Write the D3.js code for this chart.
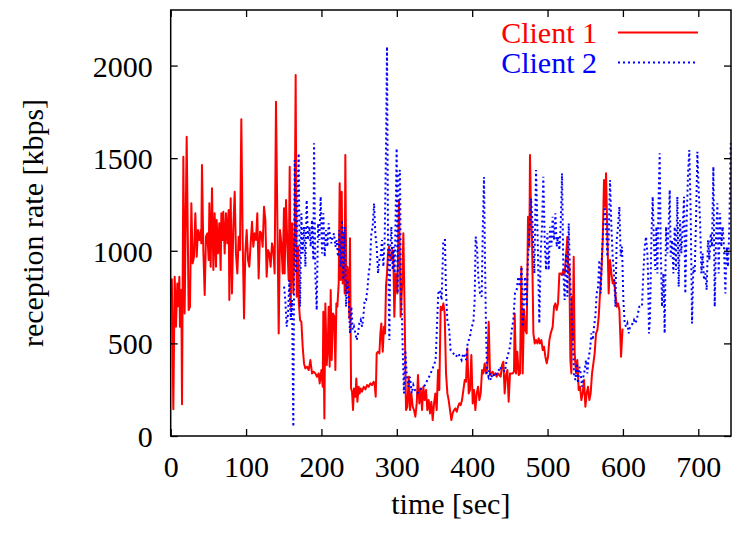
<!DOCTYPE html>
<html>
<head>
<meta charset="utf-8">
<script src="https://cdn.jsdelivr.net/npm/d3@7"></script>
<style>
  body { margin: 0; background: #fff; }
  svg, svg text { font-family: "Liberation Serif", "Times New Roman", serif; }
</style>
</head>
<body>
<svg id="chart" width="732" height="534"></svg>
<script>
const X_TICKS = [0, 100, 200, 300, 400, 500, 600, 700];
const Y_TICKS = [0, 500, 1000, 1500, 2000];
const SERIES_NAMES = ["Client 1", "Client 2"];

// [time (sec), reception rate (kbps)]
const client1 = [
  [1.5,850],[3.5,144],[5.3,860],[7,590],[8.8,824],[10,700],[11.5,860],[12.3,590],[14.1,788],[15,171],
  [16.8,1508],[18.5,662],[21.2,1616],[23.8,680],[25.6,698],[27.4,1256],[29.1,932],[30.9,968],[32.7,1202],[34.5,968],
  [36.2,1112],[38,1058],[39.8,1112],[40.6,1040],[41.5,1463],[43.3,1004],[45.1,761],[46.8,1076],[48.6,1094],[50.4,950],
  [51.3,1256],[53,914],[54.8,1337],[56.6,896],[58.3,1202],[60.1,914],[61,1166],[62.8,986],[64.5,1148],[66.3,896],
  [67.2,1202],[69,1058],[69.8,1211],[71.6,986],[73.4,1202],[75.1,1040],[76.9,1220],[77.8,734],[79.6,1283],[81.3,770],
  [83.1,1130],[84.9,1319],[86.6,986],[88.4,878],[90.2,1076],[91.9,1004],[93.7,1710],[95.5,1058],[97.3,635],[99,986],
  [100.8,1112],[102.6,950],[104.3,914],[106.1,1040],[107.9,1157],[109.6,1022],[111.4,1094],[113.2,1058],[114.9,1202],[116.7,851],
  [118.5,1103],[120.3,1094],[122,1022],[123.8,1238],[125.6,1166],[127.3,860],[129.1,1004],[130.9,986],[132.6,914],[134.4,1040],
  [136.2,1004],[137.9,878],[139.7,1805],[141.5,1166],[143.3,554],[145,1112],[146.8,1040],[148.6,878],[150.3,1229],[151.2,878],
  [153,1274],[154.8,1022],[156.5,842],[157.9,1454],[159.2,698],[161,1148],[162.7,770],[164.5,1130],[165.8,1949],[167.2,752],
  [169,1022],[169.8,734],[171.6,626],[173.4,616],[175.1,482],[176.9,392],[178.7,365],[180.9,374],[183.1,356],[185.3,410],
  [187.5,338],[189.7,347],[191.9,338],[194.1,320],[196.3,338],[197.7,284],[199.9,356],[201.7,266],[202.5,671],[203.9,95],
  [205.2,716],[207,383],[208.3,463],[209.6,698],[210.9,374],[212.3,788],[213.6,410],[215.4,662],[217.1,644],[218.5,356],
  [219.8,716],[221.1,698],[222.9,824],[224.2,1364],[225.5,842],[226.9,1319],[228.2,824],[229.5,1094],[230.8,770],[231.7,1517],
  [233.1,770],[234.4,914],[235.7,878],[237,635],[237.9,1067],[239.3,257],[240.6,239],[241.9,140],[243.2,257],[245,212],
  [246.3,311],[247.7,185],[249.4,266],[250.8,230],[252.1,257],[253.8,239],[256.1,266],[258.3,252],[260.5,275],[262.7,266],
  [264.9,284],[267.1,275],[269.3,293],[270.7,275],[272,212],[273.3,446],[275.1,455],[276.9,446],[278.2,554],[279.5,608],
  [281.3,455],[283,590],[284.4,554],[285.7,815],[287,878],[288.3,986],[289.7,1022],[291,968],[292.8,950],[294.1,1004],
  [295.4,968],[296.7,644],[298.5,878],[300.7,770],[302.9,1274],[305.1,644],[307.4,842],[308.7,1094],[310.5,626],[312.2,140],
  [314,158],[315.8,320],[317.5,140],[319.3,230],[321.1,158],[322.8,140],[324.6,104],[326.4,176],[328.1,329],[329.9,176],
  [331.7,257],[333.5,140],[335.2,266],[337,194],[338.8,248],[340.5,140],[342.3,194],[344.1,122],[345.8,185],[347.6,86],
  [349.4,176],[351.1,230],[352.9,140],[354.7,356],[356.4,248],[358.2,698],[360,680],[361.8,716],[363.5,662],[365.3,338],
  [367.1,230],[368.8,194],[370.6,140],[372.4,86],[374.1,122],[375.9,140],[377.7,149],[379.5,131],[381.2,158],[383,176],
  [384.8,167],[386.5,194],[388.3,248],[390.1,302],[391.8,293],[393.6,473],[395.4,230],[397.1,248],[398.9,437],[400.7,176],
  [402.5,248],[404.2,140],[406,230],[407.8,266],[409.5,194],[411.3,230],[413.1,356],[414.8,338],[416.6,392],[418.4,338],
  [420.1,365],[421.9,617],[423.7,329],[425.4,338],[427.2,347],[429,329],[430.8,338],[432.5,320],[434.3,338],[436.1,329],
  [437.8,320],[439.6,383],[441.4,401],[443.1,230],[444.9,329],[446.7,356],[448.4,185],[450.2,338],[452,338],[453.7,338],
  [455.5,347],[456.4,662],[458.2,338],[459.9,455],[461.7,329],[463.5,338],[465.2,914],[467,338],[468.8,680],[470.6,572],
  [472.3,554],[474.1,1184],[475.9,1022],[476.7,1517],[478.1,1202],[479.4,1058],[481.2,554],[483,500],[484.7,518],[486.5,500],
  [488.2,527],[490,500],[491.8,518],[493.6,464],[495.3,482],[497.1,428],[498.9,392],[500.6,428],[502.4,518],[504.2,554],
  [506.8,590],[508.6,698],[510.4,716],[512.1,680],[513.9,716],[515.7,878],[517.4,878],[519.2,869],[521,896],[522.7,878],
  [524.5,968],[526.3,1076],[527.6,878],[528.9,914],[530.3,410],[531.6,338],[532.5,752],[533.4,518],[534.7,968],[536,446],
  [537.8,338],[539.5,410],[541.3,248],[543.1,266],[544.9,194],[546.6,230],[548.4,302],[550.2,158],[551.9,230],[553.7,266],
  [555.5,194],[557.2,230],[559,338],[560.8,392],[562.5,446],[564.3,554],[566.1,572],[567.9,644],[569.6,770],[571.4,878],
  [573.2,1058],[574.9,1382],[576.7,1238],[577.6,1418],[579.4,1076],[581.1,770],[582.9,950],[584.7,878],[586.4,824],[588.2,842],
  [590,770],[591.7,698],[593.5,716],[595.3,680],[597.5,428],[599.5,580]
];

const client2 = [
  [150.4,806],[152.1,734],[153.9,590],[155.7,662],[157.4,842],[159.2,626],[161,734],[162.7,50],[164.5,1490],[166.3,878],
  [168,1238],[169.8,1526],[171.6,698],[173.4,1202],[175.1,986],[176.9,1130],[178.7,914],[180.4,1274],[182.2,1058],[184,1130],
  [185.7,1022],[187.5,1166],[189.3,950],[190.2,1580],[191.9,878],[193.7,680],[195.5,1148],[197.2,1058],[199,1292],[200.8,986],
  [202.5,1202],[204.3,968],[206.1,1112],[207.9,1022],[209.6,1148],[211.4,1076],[213.2,1040],[214.9,1076],[216.7,1094],[218.5,1022],
  [220.2,1058],[222,968],[223.8,1112],[225.5,914],[227.3,1166],[229.1,842],[230.8,1130],[232.6,698],[234.4,842],[236.1,770],
  [237.9,554],[239.7,698],[241.5,572],[243.2,590],[245,554],[246.8,518],[248.5,554],[250.3,608],[252.1,626],[253.9,590],
  [255.6,644],[257.4,734],[259.2,734],[260.9,788],[262.7,878],[264.5,932],[266.2,1094],[268,1130],[269.8,1256],[271.5,1094],
  [273.3,1022],[275.1,878],[276.8,950],[278.6,968],[280.4,1058],[282.2,914],[283.9,1058],[285.7,1562],[287,2102],[288.3,1058],
  [290.1,518],[291.4,1022],[292.8,1130],[294.5,896],[295.9,1022],[297.2,878],[299.8,1553],[301.1,770],[302.4,1418],[304.2,1436],
  [305.5,770],[306.9,644],[308.2,410],[309.5,230],[311.3,464],[313.1,338],[315.3,266],[317.5,320],[319.7,230],[321.9,275],
  [324.1,248],[327.2,230],[329.9,248],[333,257],[337.4,275],[340.5,302],[344,329],[348.4,374],[351.5,410],[355,770],
  [357.3,788],[359.5,734],[361.7,1058],[363.9,1058],[365.2,788],[367,626],[369.2,590],[371.4,464],[375,446],[378.5,428],
  [381.6,446],[383.8,428],[386,410],[388.2,446],[390.5,428],[391.8,410],[394,500],[397.1,536],[399.3,590],[401.5,608],
  [403.3,734],[404.6,1076],[406.4,1022],[408.1,860],[410.4,770],[412.6,752],[414.3,1166],[415.7,1398],[417,950],[418.3,590],
  [419.6,338],[421.4,320],[422.7,356],[424.5,302],[427.2,338],[429.8,320],[432.5,338],[434.7,347],[436.9,374],[439.1,356],
  [441.3,356],[443.5,347],[445.7,410],[448,446],[450.2,482],[452.4,572],[454.6,626],[456.8,770],[459,788],[461.2,860],
  [463.4,806],[465.6,914],[467,590],[468.3,680],[470.1,860],[472.3,698],[473.6,914],[474.9,1022],[476.7,1166],[478.1,1283],
  [480.3,1130],[482.5,878],[484.7,1436],[486.9,1058],[489.1,608],[490.9,986],[492.7,1130],[494.4,1400],[496.2,1058],[498,896],
  [499.7,1094],[501.5,896],[503.3,1130],[505.1,1022],[506.8,1184],[508.6,1058],[510.4,1202],[512.1,1022],[513.9,1076],[515.7,1004],
  [517.4,1130],[519.2,1418],[521,878],[522.7,734],[524.5,986],[526.3,752],[528.1,1148],[529.8,878],[531.6,698],[533.4,518],
  [535.1,338],[536.9,302],[538.7,392],[540.4,284],[542.2,374],[544,338],[545.7,266],[547.5,320],[549.3,356],[551,410],
  [552.8,338],[554.6,428],[556.4,464],[558.1,554],[559.9,518],[561.7,590],[563.4,644],[565.2,770],[567,806],[568.7,950],
  [570.5,770],[572.3,986],[574,1130],[575.8,1238],[577.6,1130],[579.3,968],[581.1,1058],[582.9,1382],[584.7,1130],[586.4,968],
  [588.2,878],[590,698],[591.7,1058],[593.5,1130],[595.3,1238],[597,970],[598.8,1022],[600.6,734],[602.3,608],[604.1,590],
  [605.9,608],[607.7,554],[609.4,590],[611.2,599],[613,608],[614.7,626],[616.5,608],[618.3,626],[620,662],[621.8,698],
  [623.6,698],[625.3,698],[627.1,878],[628.9,1022],[630.7,1076],[632.4,986],[633.3,878],[634.6,554],[636,644],[637.7,1058],
  [639.5,1292],[641.3,1022],[643,896],[644.4,1130],[645.7,878],[647.5,1310],[648.8,1526],[650.1,1022],[651.9,698],[653.7,878],
  [655.4,554],[657.2,1130],[659,986],[660.7,1130],[662.1,1328],[663.4,968],[665.2,1058],[667,878],[668.7,1130],[670.5,896],
  [672.2,1292],[674,806],[675.8,1166],[677.5,986],[679.3,1130],[681.1,1292],[682.8,770],[684.6,1166],[686.4,1418],[688.1,1544],
  [689.9,1202],[691.7,608],[693.5,914],[695.2,878],[697,1166],[698.8,1535],[700.5,1328],[702.3,1166],[704.1,878],[705.8,986],
  [707.6,842],[709.4,878],[711.1,788],[712.9,1058],[714.7,950],[716.5,1094],[718.2,1022],[720,1454],[721.8,698],[723.5,1058],
  [725.3,1256],[727.1,878],[728.8,1202],[730.6,1022],[732.4,1130],[734.1,1022],[735.9,770],[737.7,1022],[739.5,914],[741.2,1130],
  [743,1580]
];

const LEFT   = 170.7;
const RIGHT  = 731;
const TOP    = 10;
const BOTTOM = 436;
const TICK   = 7;
const FONT   = 30;
const DOTS   = "2,3";

const svg = d3.select("#chart");

const x = d3.scaleLinear().domain([0, 743.4]).range([LEFT, RIGHT]);
const y = d3.scaleLinear().domain([0, 2300]).range([BOTTOM, TOP]);

const line = d3.line().x(d => x(d[0])).y(d => y(d[1]));

// client 1 first so client 2 sits on top, as gnuplot draws it
svg.append("path")
   .datum(client1)
   .attr("fill", "none")
   .attr("stroke", "#ff0000")
   .attr("stroke-width", 2)
   .attr("stroke-linejoin", "round")
   .attr("d", line);

svg.append("path")
   .datum(client2)
   .attr("fill", "none")
   .attr("stroke", "#0000ff")
   .attr("stroke-width", 2)
   .attr("stroke-dasharray", DOTS)
   .attr("d", line);

// axes with inward ticks on all four sides
function styleAxis(g) {
  g.attr("font-family", null).attr("font-size", FONT);
  g.select(".domain").remove();
  g.selectAll(".tick line").attr("stroke", "#000").attr("stroke-width", 1.3);
  g.selectAll("text").attr("fill", "#000");
}

svg.append("g")
   .attr("transform", `translate(0,${BOTTOM})`)
   .call(d3.axisBottom(x).tickValues(X_TICKS).tickSize(-TICK).tickSizeOuter(0).tickFormat(d3.format("d")))
   .call(styleAxis)
   .call(g => g.selectAll("text").attr("y", 41).attr("dy", null));

svg.append("g")
   .attr("transform", `translate(0,${TOP})`)
   .call(d3.axisTop(x).tickValues(X_TICKS).tickSize(-TICK).tickSizeOuter(0).tickFormat(""))
   .call(styleAxis);

svg.append("g")
   .attr("transform", `translate(${LEFT},0)`)
   .call(d3.axisLeft(y).tickValues(Y_TICKS).tickSize(-TICK).tickSizeOuter(0).tickFormat(d3.format("d")))
   .call(styleAxis)
   .call(g => g.selectAll("text").attr("x", -18).attr("dy", "0.35em"));

svg.append("g")
   .attr("transform", `translate(${RIGHT},0)`)
   .call(d3.axisRight(y).tickValues(Y_TICKS).tickSize(-TICK).tickSizeOuter(0).tickFormat(""))
   .call(styleAxis);

svg.append("rect")
   .attr("x", LEFT).attr("y", TOP)
   .attr("width", RIGHT - LEFT).attr("height", BOTTOM - TOP)
   .attr("fill", "none")
   .attr("stroke", "#000")
   .attr("stroke-width", 1.5);

// axis titles
svg.append("text")
   .attr("x", (LEFT + RIGHT) / 2)
   .attr("y", 514)
   .attr("text-anchor", "middle")
   .attr("font-size", FONT)
   .text("time [sec]");

svg.append("text")
   .attr("transform", `translate(43,${(TOP + BOTTOM) / 2}) rotate(-90)`)
   .attr("text-anchor", "middle")
   .attr("font-size", FONT)
   .text("reception rate [kbps]");

// legend
const legendColors = ["#ff0000", "#0000ff"];
const legendDash   = [null, DOTS];

SERIES_NAMES.forEach((name, i) => {
  const baseY = 42.5 + i * 30;
  svg.append("text")
     .attr("x", 597)
     .attr("y", baseY)
     .attr("text-anchor", "end")
     .attr("font-size", FONT)
     .attr("fill", legendColors[i])
     .text(name);
  svg.append("line")
     .attr("x1", 618).attr("x2", 698)
     .attr("y1", baseY - 10).attr("y2", baseY - 10)
     .attr("stroke", legendColors[i])
     .attr("stroke-width", 2)
     .attr("stroke-dasharray", legendDash[i]);
});
</script>
</body>
</html>
